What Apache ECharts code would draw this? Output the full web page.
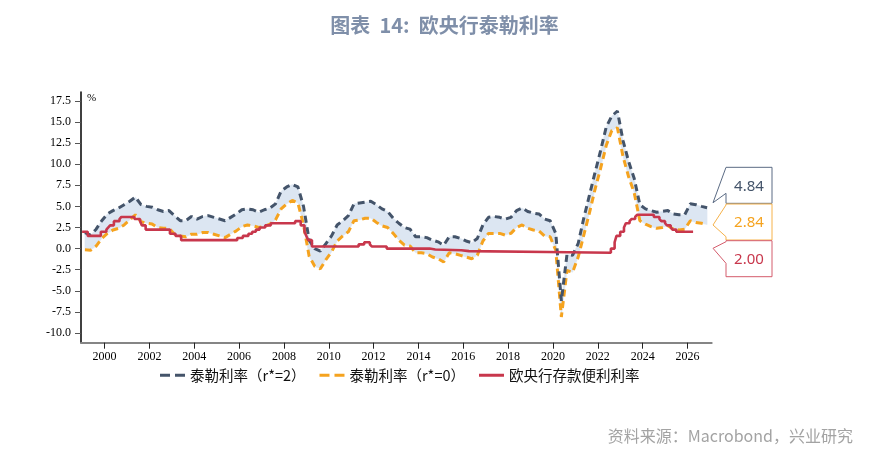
<!DOCTYPE html>
<html><head><meta charset="utf-8">
<script src="https://cdn.jsdelivr.net/npm/echarts@6/dist/echarts.min.js"></script>
<style>html,body{margin:0;padding:0;background:#fff}#c{width:889px;height:460px}</style>
</head><body><div id="c"></div>
<script>
// ---- data ----
const firstQuarterMid = 1999.125;   // quarterly observations, mid-quarter
const taylorR2 = [
  1.9, 1.6, 2.3, 3.3,   4.1, 4.5, 4.8, 5.2,   5.6, 6.1, 5.2, 5.0,   4.9, 4.6, 4.4, 4.5,
  3.9, 3.3, 3.3, 3.8,   3.5, 3.8, 3.9, 3.7,   3.5, 3.3, 3.7, 4.1,   4.6, 4.7, 4.6, 4.3,
  4.6, 4.8, 5.3, 6.8,   7.3, 7.6, 7.3, 5.0,   1.0, 0.0, -0.3, 0.6,  1.5, 2.8, 3.3, 3.9,
  5.3, 5.4, 5.5, 5.6,   5.2, 4.7, 4.4, 3.6,   3.0, 2.5, 2.3, 1.4,   1.4, 1.3, 1.0, 0.8,
  0.4, 1.4, 1.4, 1.2,   0.9, 0.7, 1.2, 2.8,   3.7, 3.8, 3.7, 3.5,   3.7, 4.5, 4.8, 4.4,
  4.2, 4.1, 3.5, 3.3,   1.8, -6.2, -0.7, -0.8, 0.6, 3.6, 6.3, 9.0,  11.6, 14.4, 15.7, 16.3,
  12.8, 10.3, 8.3, 5.2, 4.7, 4.5, 4.3, 4.4,   4.5, 4.1, 4.0, 4.0,   5.3, 5.2, 5.0, 4.84
];
const taylorR0 = [
  -0.15, -0.2, 0.3, 1.2, 1.8, 2.2, 2.4, 2.8,  3.4, 4.0, 3.2, 3.0,   2.9, 2.5, 2.4, 2.4,
  1.7, 1.5, 1.4, 1.7,   1.7, 1.9, 1.9, 1.7,   1.5, 1.3, 1.7, 2.1,   2.6, 2.8, 2.7, 2.5,
  2.6, 2.9, 3.4, 4.7,   5.3, 5.7, 5.4, 2.8,   -0.9, -2.1, -2.4, -1.3, -0.4, 0.9, 1.5, 2.0,
  3.3, 3.4, 3.6, 3.6,   3.1, 2.7, 2.5, 1.8,   1.0, 0.4, 0.3, -0.5,  -0.5, -0.6, -1.0, -1.2,
  -1.6, -0.5, -0.6, -0.8, -1.0, -1.2, -0.8, 0.9, 1.8, 1.8, 1.8, 1.6,  1.8, 2.5, 2.8, 2.4,
  2.2, 2.1, 1.5, 1.4,   -0.2, -8.1, -2.6, -2.8, -1.0, 1.6, 4.2, 7.0, 9.5, 12.2, 14.0, 14.3,
  10.9, 8.5, 6.6, 3.3,  2.9, 2.6, 2.4, 2.5,   2.7, 2.3, 2.2, 2.3,   3.3, 3.1, 3.0, 2.84
];
// ECB deposit facility rate: change points (decimal year) and level from then on
const depoDates = [
  1999.0, 1999.25, 1999.833, 2000.083, 2000.167, 2000.25, 2000.417, 2000.667, 2000.75,
  2001.333, 2001.583, 2001.667, 2001.833, 2002.917, 2003.167, 2003.417,
  2005.917, 2006.167, 2006.417, 2006.583, 2006.75, 2006.917, 2007.167, 2007.417,
  2008.5, 2008.75, 2008.917, 2009.0, 2009.083, 2009.25,
  2011.333, 2011.583, 2011.833, 2011.917, 2012.583,
  2014.5, 2014.75, 2015.917, 2016.25, 2019.75,
  2022.583, 2022.75, 2022.833, 2023.0, 2023.167, 2023.25, 2023.417, 2023.5, 2023.667, 2023.75,
  2024.5, 2024.75, 2024.833, 2025.0, 2025.083, 2025.25, 2025.333, 2025.5, 2026.25
];
const depoValues = [
  2.0, 1.5, 2.0, 2.25, 2.5, 2.75, 3.25, 3.5, 3.75,
  3.5, 3.25, 2.75, 2.25, 1.75, 1.5, 1.0,
  1.25, 1.5, 1.75, 2.0, 2.25, 2.5, 2.75, 3.0,
  3.25, 2.75, 2.0, 1.5, 1.0, 0.25,
  0.5, 0.75, 0.5, 0.25, 0.0,
  -0.1, -0.2, -0.3, -0.4, -0.5,
  0.0, 0.75, 1.5, 2.0, 2.5, 3.0, 3.25, 3.5, 3.75, 4.0,
  3.75, 3.5, 3.25, 3.0, 2.75, 2.5, 2.25, 2.0, 2.0
];
const xTickYears = [2000,2002,2004,2006,2008,2010,2012,2014,2016,2018,2020,2022,2024,2026];
const yTickValues = [-10,-7.5,-5,-2.5,0,2.5,5,7.5,10,12.5,15,17.5];
const seriesNames = ['泰勒利率（r*=2）', '泰勒利率（r*=0）', '欧央行存款便利利率'];
const titleText = '图表  14:  欧央行泰勒利率';
const sourceText = '资料来源：Macrobond，兴业研究';

// ---- styles ----
const C_BLUE = '#44546a', C_ORANGE = '#f5a31f', C_RED = '#c8374c', C_BAND = '#dce6f2';

const qTimes = taylorR2.map((_, i) => firstQuarterMid + i * 0.25);
const r2Data = qTimes.map((t, i) => [t, taylorR2[i]]);
const r0Data = qTimes.map((t, i) => [t, taylorR0[i]]);
const depoData = depoDates.map((t, i) => [t, depoValues[i]]);

const last = a => a[a.length - 1];
const calloutData = [
  [last(qTimes), last(taylorR2)],
  [last(qTimes), last(taylorR0)],
  [last(depoDates), last(depoValues)]
];
const calloutTexts = calloutData.map(d => d[1].toFixed(2));
// per-callout layout relative to the value's pixel y
const calloutLayout = [
  {boxDy: -40.4, tipDy: -5, wHigh: 0, wLow: 26, stroke: '#5b6b84', text: C_BLUE},
  {boxDy: -20.6, tipDy: 0.4, wHigh: 1, wLow: 32.7, stroke: '#f6b24a', text: C_ORANGE},
  {boxDy: 9, tipDy: 16.6, wHigh: 1, wLow: 22.6, stroke: '#d45c6c', text: C_RED}
];

const chart = echarts.init(document.getElementById('c'), null, {renderer: 'canvas'});
const serifFont = '"Liberation Serif", "DejaVu Serif", serif';
const cjkFont = '"Noto Sans CJK SC", "Noto Sans", sans-serif';
const dashIcon = 'path://M0,0h10v3h-10z M15,0h10v3h-10z';
const solidIcon = 'path://M0,0h25v3h-25z';

chart.setOption({
  animation: false,
  backgroundColor: '#fff',
  title: [
    {text: titleText, left: 'center', top: 10,
     textStyle: {fontSize: 20, fontWeight: 'bold', color: '#7f8fa9', fontFamily: cjkFont}},
    {text: sourceText, right: 31, top: 423,
     textStyle: {fontSize: 16, fontWeight: 'normal', color: '#a3a3a3', fontFamily: cjkFont}}
  ],
  legend: {
    data: [
      {name: seriesNames[0], icon: dashIcon},
      {name: seriesNames[1], icon: dashIcon},
      {name: seriesNames[2], icon: solidIcon}
    ],
    left: 160, top: 368, padding: 0, itemWidth: 25, itemHeight: 3, itemGap: 14,
    textStyle: {fontSize: 14.5, color: '#111', fontFamily: cjkFont}
  },
  grid: {left: 81, right: 177.3, top: 92, bottom: 117.3, containLabel: false},
  xAxis: {
    type: 'value', min: 1998.95, max: 2027.08,
    axisLine: {show: true, onZero: false, lineStyle: {color: '#858585', width: 2}},
    axisTick: {show: true, customValues: xTickYears, length: 6, lineStyle: {color: '#222', width: 1}},
    axisLabel: {customValues: xTickYears, formatter: v => String(Math.round(v)), margin: 8,
      fontSize: 12, color: '#000', fontFamily: serifFont},
    splitLine: {show: false}
  },
  yAxis: {
    type: 'value', min: -11.15, max: 18.55,
    name: '%', nameLocation: 'end', nameGap: -12,
    nameTextStyle: {align: 'left', padding: [0, 0, 0, 6], fontSize: 11, color: '#000', fontFamily: serifFont},
    axisLine: {show: true, onZero: false, lineStyle: {color: '#000', width: 1.5}},
    axisTick: {show: true, customValues: yTickValues, length: 6, lineStyle: {color: '#555', width: 1}},
    axisLabel: {customValues: yTickValues, formatter: v => v.toFixed(1), margin: 10,
      fontSize: 12, color: '#000', fontFamily: serifFont},
    splitLine: {show: false}
  },
  series: [
    {name: 'band', type: 'custom', data: [[qTimes[0], taylorR0[0]]], silent: true, z: 1,
     encode: {x: 0, y: 1},
     renderItem: function (params, api) {
       const upper = r2Data.map(d => api.coord(d));
       const lower = r0Data.map(d => api.coord(d)).reverse();
       const cs = params.coordSys;
       return {type: 'polygon', shape: {points: upper.concat(lower)},
         style: {fill: C_BAND, stroke: C_BAND, lineWidth: 0.5},
         clipPath: {type: 'rect', shape: {x: cs.x, y: cs.y, width: cs.width, height: cs.height}}};
     }},
    {name: seriesNames[1], type: 'line', data: r0Data, symbol: 'none', z: 3,
     itemStyle: {color: C_ORANGE}, lineStyle: {color: C_ORANGE, width: 3, type: [7, 4.5]}},
    {name: seriesNames[0], type: 'line', data: r2Data, symbol: 'none', z: 4,
     itemStyle: {color: C_BLUE}, lineStyle: {color: C_BLUE, width: 3, type: [7, 4.5]}},
    {name: seriesNames[2], type: 'line', data: depoData, step: 'end', symbol: 'none', z: 5,
     itemStyle: {color: C_RED}, lineStyle: {color: C_RED, width: 2.6}},
    {name: 'callouts', type: 'custom', data: calloutData, clip: false, silent: true, z: 10,
     encode: {x: 0, y: 1},
     renderItem: function (params, api) {
       const i = params.dataIndex;
       const lay = calloutLayout[i];
       const p = api.coord([api.value(0), api.value(1)]);
       const cs = params.coordSys;
       const tipX = cs.x + cs.width + 1.3;
       const L = tipX + 13, W = 46, H = 36;
       const top = p[1] + lay.boxDy;
       const tipY = p[1] + lay.tipDy;
       const pts = [[L, top], [L + W, top], [L + W, top + H], [L, top + H],
                    [L, top + lay.wLow], [tipX, tipY], [L, top + lay.wHigh]];
       return {type: 'group', children: [
         {type: 'polygon', shape: {points: pts}, style: {fill: '#fff', stroke: lay.stroke, lineWidth: 1}},
         {type: 'text', style: {text: calloutTexts[i], x: L + W / 2, y: top + H / 2 + 1,
           align: 'center', verticalAlign: 'middle', fill: lay.text,
           font: '15px "Noto Sans", "Open Sans", sans-serif'}}
       ]};
     }}
  ]
});
</script></body></html>
